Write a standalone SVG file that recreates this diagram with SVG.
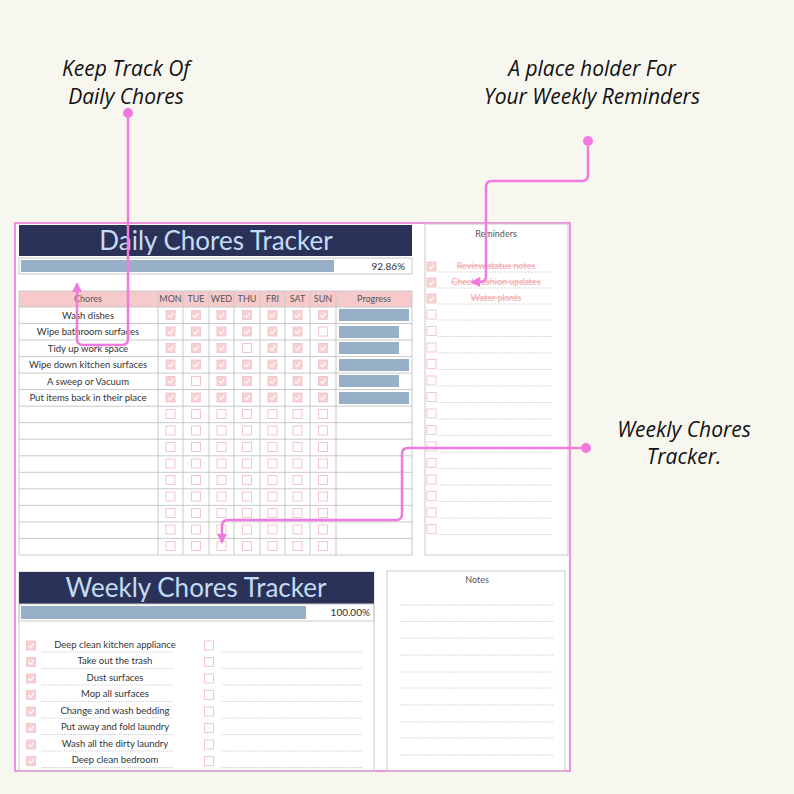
<svg xmlns="http://www.w3.org/2000/svg" width="794" height="794" viewBox="0 0 794 794">
<style>
.ann{font-family:"Open Sans",Lato,sans-serif;font-style:italic;font-size:21px;fill:#111;text-anchor:middle}
.ttl{font-family:Lato,"Open Sans",sans-serif;font-size:26px;fill:#c4dcf2;text-anchor:middle}
.t{font-family:Lato,"Open Sans",sans-serif;font-size:9.5px;fill:#333;text-anchor:middle}
.h{font-family:Lato,"Open Sans",sans-serif;font-size:9px;fill:#555;text-anchor:middle}
.rm{font-family:Lato,"Open Sans",sans-serif;font-size:9px;fill:#f2a9ad;text-anchor:middle;text-decoration:line-through}
.g{stroke:#c9c9c9;stroke-width:1;fill:none}
.dl{stroke:#b5b5b5;stroke-width:0.8;stroke-dasharray:1 1.2}
.con{fill:none;stroke:#f07ade;stroke-width:2.5;stroke-linejoin:round}
.bar{fill:#97b0c8}
</style>
<defs>
<g id="ck"><rect width="9" height="9" fill="#f7d2d4" stroke="#f2c0c3" stroke-width="0.8"/><path d="M2 4.6 L4 6.6 L7.2 2.6" fill="none" stroke="#fff" stroke-width="1.1"/></g>
<g id="uc"><rect width="9" height="9" fill="#fff" stroke="#f2c0c3" stroke-width="0.9"/></g>
<g id="emptyrow"><use href="#uc" x="166" y="0"/><use href="#uc" x="191.5" y="0"/><use href="#uc" x="217" y="0"/><use href="#uc" x="242.5" y="0"/><use href="#uc" x="268" y="0"/><use href="#uc" x="293" y="0"/><use href="#uc" x="318.5" y="0"/></g>
<g id="rline"><use href="#uc" x="427" y="0"/><line class="dl" x1="438" y1="10" x2="552" y2="10"/></g>
<g id="wrow"><use href="#ck" x="26.5" y="0"/><line class="dl" x1="42" y1="11" x2="173" y2="11"/><use href="#uc" x="204.5" y="0"/><line class="dl" x1="222" y1="11" x2="362" y2="11"/></g>
<marker id="ah" viewBox="0 0 10 10" refX="8" refY="5" markerWidth="4" markerHeight="4" orient="auto"><path d="M0 0 L10 5 L0 10 Z" fill="#f07ade"/></marker>
</defs>
<rect width="794" height="794" fill="#f7f7f0"/>
<rect x="15" y="223" width="555" height="548" fill="#fff" stroke="#ef92dc" stroke-width="2"/>

<g id="daily">
<rect x="19" y="225" width="393" height="31" fill="#2b3259"/>
<text class="ttl" x="216" y="250">Daily Chores Tracker</text>
<rect x="19" y="258" width="393" height="16" class="g"/>
<rect x="21" y="260" width="313" height="12" class="bar"/>
<text x="405" y="270" font-family="Lato,sans-serif" font-size="10" fill="#333" text-anchor="end">92.86%</text>
<rect x="19" y="291" width="393" height="16" fill="#f6c9cb"/>
<g class="h"><text x="88" y="302">Chores</text><text x="170.5" y="302">MON</text><text x="196" y="302">TUE</text><text x="221.5" y="302">WED</text><text x="247" y="302">THU</text><text x="272.5" y="302">FRI</text><text x="297.5" y="302">SAT</text><text x="323" y="302">SUN</text><text x="374" y="302">Progress</text></g>
<path class="g" d="M19 291H412M19 307H412M19 323.5H412M19 340H412M19 356.6H412M19 373.1H412M19 389.6H412M19 406.2H412M19 422.7H412M19 439.2H412M19 455.8H412M19 472.3H412M19 488.8H412M19 505.4H412M19 521.9H412M19 538.4H412M19 555H412M19 291V555M158 291V555M183 291V555M209 291V555M234 291V555M260 291V555M285 291V555M310 291V555M336 291V555M412 291V555"/>
<g class="t"><text x="88" y="319">Wash dishes</text><text x="88" y="335">Wipe bathroom surfaces</text><text x="88" y="352">Tidy up work space</text><text x="88" y="368">Wipe down kitchen surfaces</text><text x="88" y="385">A sweep or Vacuum</text><text x="88" y="401">Put items back in their place</text></g>
<g class="bar"><rect x="339" y="309" width="70" height="12"/><rect x="339" y="326" width="60" height="12"/><rect x="339" y="342" width="60" height="12"/><rect x="339" y="359" width="70" height="12"/><rect x="339" y="375" width="60" height="12"/><rect x="339" y="392" width="70" height="12"/></g>
<g>
<use href="#ck" x="166" y="310.5"/><use href="#ck" x="191.5" y="310.5"/><use href="#ck" x="217" y="310.5"/><use href="#ck" x="242.5" y="310.5"/><use href="#ck" x="268" y="310.5"/><use href="#ck" x="293" y="310.5"/><use href="#ck" x="318.5" y="310.5"/>
<use href="#ck" x="166" y="327"/><use href="#ck" x="191.5" y="327"/><use href="#ck" x="217" y="327"/><use href="#ck" x="242.5" y="327"/><use href="#ck" x="268" y="327"/><use href="#ck" x="293" y="327"/><use href="#uc" x="318.5" y="327"/>
<use href="#ck" x="166" y="343.5"/><use href="#ck" x="191.5" y="343.5"/><use href="#ck" x="217" y="343.5"/><use href="#uc" x="242.5" y="343.5"/><use href="#ck" x="268" y="343.5"/><use href="#ck" x="293" y="343.5"/><use href="#ck" x="318.5" y="343.5"/>
<use href="#ck" x="166" y="360"/><use href="#ck" x="191.5" y="360"/><use href="#ck" x="217" y="360"/><use href="#ck" x="242.5" y="360"/><use href="#ck" x="268" y="360"/><use href="#ck" x="293" y="360"/><use href="#ck" x="318.5" y="360"/>
<use href="#ck" x="166" y="376.5"/><use href="#uc" x="191.5" y="376.5"/><use href="#ck" x="217" y="376.5"/><use href="#ck" x="242.5" y="376.5"/><use href="#ck" x="268" y="376.5"/><use href="#ck" x="293" y="376.5"/><use href="#ck" x="318.5" y="376.5"/>
<use href="#ck" x="166" y="393"/><use href="#ck" x="191.5" y="393"/><use href="#ck" x="217" y="393"/><use href="#ck" x="242.5" y="393"/><use href="#ck" x="268" y="393"/><use href="#ck" x="293" y="393"/><use href="#ck" x="318.5" y="393"/>
</g>
<use href="#emptyrow" y="409.5"/><use href="#emptyrow" y="426"/><use href="#emptyrow" y="442.5"/><use href="#emptyrow" y="459"/><use href="#emptyrow" y="475.5"/><use href="#emptyrow" y="492"/><use href="#emptyrow" y="508.5"/><use href="#emptyrow" y="525"/><use href="#emptyrow" y="541.5"/>
</g>

<g id="reminders">
<rect x="425" y="224" width="143" height="331" class="g"/>
<text class="h" x="496" y="237" fill="#333">Reminders</text>
<g class="rm"><text x="496" y="269">Review status notes</text><text x="496" y="285">Check fashion updates</text><text x="496" y="301">Water plants</text></g>
<use href="#ck" x="427" y="262"/><use href="#ck" x="427" y="278"/><use href="#ck" x="427" y="294"/>
<line class="dl" x1="438" y1="272" x2="552" y2="272"/><line class="dl" x1="438" y1="288" x2="552" y2="288"/><line class="dl" x1="438" y1="304" x2="552" y2="304"/>
<use href="#rline" y="310"/><use href="#rline" y="326.5"/><use href="#rline" y="343"/><use href="#rline" y="359.5"/><use href="#rline" y="376"/><use href="#rline" y="392.5"/><use href="#rline" y="409"/><use href="#rline" y="425.5"/><use href="#rline" y="442"/><use href="#rline" y="458.5"/><use href="#rline" y="475"/><use href="#rline" y="491.5"/><use href="#rline" y="508"/><use href="#rline" y="524.5"/>
</g>

<g id="weekly">
<rect x="19" y="572" width="355" height="199" class="g"/>
<rect x="19" y="572" width="355" height="32" fill="#2b3259"/>
<text class="ttl" x="196" y="597">Weekly Chores Tracker</text>
<rect x="19" y="604" width="355" height="17" class="g"/>
<rect x="21" y="606" width="285" height="13" class="bar"/>
<text x="370" y="616" font-family="Lato,sans-serif" font-size="10" fill="#333" text-anchor="end">100.00%</text>
<g class="t"><text x="115" y="648">Deep clean kitchen appliance</text><text x="115" y="664">Take out the trash</text><text x="115" y="681">Dust surfaces</text><text x="115" y="697">Mop all surfaces</text><text x="115" y="714">Change and wash bedding</text><text x="115" y="730">Put away and fold laundry</text><text x="115" y="747">Wash all the dirty laundry</text><text x="115" y="763">Deep clean bedroom</text></g>
<use href="#wrow" y="641"/><use href="#wrow" y="657.5"/><use href="#wrow" y="674"/><use href="#wrow" y="690.5"/><use href="#wrow" y="707"/><use href="#wrow" y="723.5"/><use href="#wrow" y="740"/><use href="#wrow" y="756.5"/>
</g>

<g id="notes">
<rect x="387" y="571" width="178" height="200" class="g"/>
<text class="h" x="477" y="583" fill="#333">Notes</text>
<path class="dl" d="M400 605H553M400 621.5H553M400 638H553M400 655H553M400 672H553M400 688H553M400 705H553M400 722H553M400 738H553M400 755H553"/>
</g>

<g id="annotations">
<text class="ann" x="126" y="76">Keep Track Of</text><text class="ann" x="126" y="104">Daily Chores</text>
<text class="ann" x="592" y="76">A place holder For</text><text class="ann" x="592" y="104">Your Weekly Reminders</text>
<text class="ann" x="684" y="437">Weekly Chores</text><text class="ann" x="684" y="464">Tracker.</text>
</g>
<g id="connectors">
<circle cx="128" cy="113" r="5" fill="#f07ade"/>
<path class="con" d="M128 113V339Q128 345 122 345H83Q77 345 77 339V284" marker-end="url(#ah)"/>
<circle cx="588" cy="141" r="5" fill="#f07ade"/>
<path class="con" d="M588 141V175Q588 181 582 181H492Q486 181 486 187V276Q486 282 480 282H472" marker-end="url(#ah)"/>
<circle cx="586" cy="448" r="5" fill="#f07ade"/>
<path class="con" d="M586 448H408Q402 448 402 454V514Q402 520 396 520H228Q222 520 222 526V542" marker-end="url(#ah)"/>
</g>
</svg>
